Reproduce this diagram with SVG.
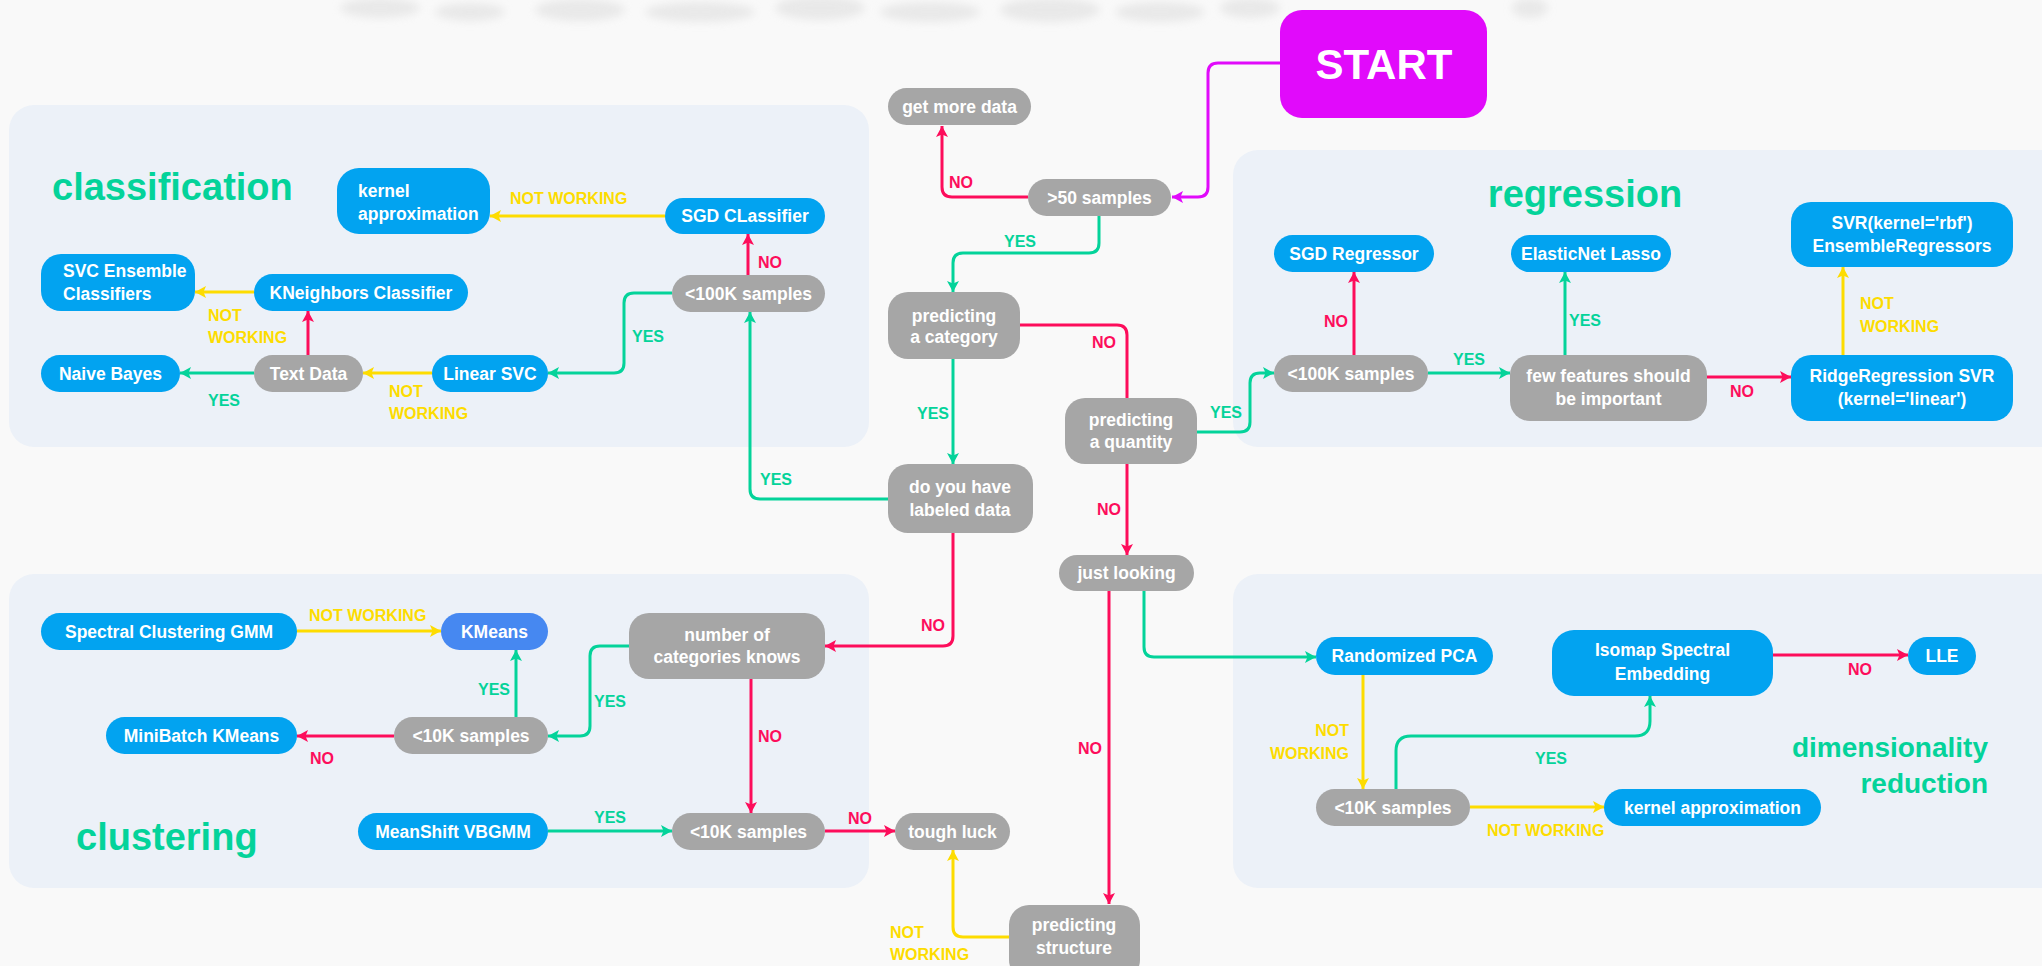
<svg xmlns="http://www.w3.org/2000/svg" width="2042" height="966" viewBox="0 0 2042 966">
<defs>
<style>
.bg{fill:#f9f9f9}
.panel{fill:#ecf1f8}
.blue{fill:#02a3f0}
.gray{fill:#a6a6a6}
.km{fill:#4688f1}
.mag{fill:#e10afb}
.t{font-family:'Liberation Sans',Arial,sans-serif;font-weight:bold;font-size:17.5px;fill:#ffffff}
.m{text-anchor:middle}
.e{text-anchor:end}
.lab{font-family:'Liberation Sans',Arial,sans-serif;font-weight:bold;font-size:16px}
.title{font-family:'Liberation Sans',Arial,sans-serif;font-weight:bold;font-size:38px;fill:#04d39a}
.lg{fill:#04d39a}.lr{fill:#fd0d5b}.ly{fill:#fddc00}
.c{fill:none;stroke-width:3;stroke-linejoin:round}
.cg{stroke:#04d39a}.cr{stroke:#fd0d5b}.cy{stroke:#fddc00}.cm{stroke:#e10afb}
</style>
<marker id="ag" markerUnits="userSpaceOnUse" markerWidth="12" markerHeight="12" refX="11" refY="6" orient="auto"><path d="M0,0 L11,6 L0,12 L2.5,6 z" fill="#04d39a"/></marker>
<marker id="ar" markerUnits="userSpaceOnUse" markerWidth="12" markerHeight="12" refX="11" refY="6" orient="auto"><path d="M0,0 L11,6 L0,12 L2.5,6 z" fill="#fd0d5b"/></marker>
<marker id="ay" markerUnits="userSpaceOnUse" markerWidth="12" markerHeight="12" refX="11" refY="6" orient="auto"><path d="M0,0 L11,6 L0,12 L2.5,6 z" fill="#fddc00"/></marker>
<marker id="am" markerUnits="userSpaceOnUse" markerWidth="12" markerHeight="12" refX="11" refY="6" orient="auto"><path d="M0,0 L11,6 L0,12 L2.5,6 z" fill="#e10afb"/></marker>
<filter id="blur" x="-20%" y="-100%" width="140%" height="300%"><feGaussianBlur stdDeviation="4"/></filter>
</defs>

<rect class="bg" x="0" y="0" width="2042" height="966"/>

<g id="top-decoration" filter="url(#blur)" fill="#e2e2e2" opacity="0.7">
<ellipse cx="380" cy="8" rx="40" ry="10"/>
<ellipse cx="470" cy="12" rx="35" ry="9"/>
<ellipse cx="580" cy="10" rx="45" ry="11"/>
<ellipse cx="700" cy="12" rx="55" ry="10"/>
<ellipse cx="820" cy="8" rx="45" ry="12"/>
<ellipse cx="930" cy="12" rx="50" ry="10"/>
<ellipse cx="1050" cy="10" rx="50" ry="12"/>
<ellipse cx="1160" cy="12" rx="45" ry="10"/>
<ellipse cx="1250" cy="8" rx="30" ry="10"/>
<ellipse cx="1530" cy="8" rx="18" ry="10"/>
</g>

<g id="panels">
<rect class="panel" x="9" y="105" width="860" height="342" rx="25"/>
<rect class="panel" x="1233" y="150" width="840" height="297" rx="25"/>
<rect class="panel" x="9" y="574" width="860" height="314" rx="25"/>
<rect class="panel" x="1233" y="574" width="840" height="314" rx="25"/>
<text class="title" x="52" y="200">classification</text>
<text class="title m" x="1585" y="207">regression</text>
<text class="title" x="76" y="850">clustering</text>
<text class="title e" x="1988" y="757" style="font-size:28px">dimensionality</text>
<text class="title e" x="1988" y="793" style="font-size:28px">reduction</text>
</g>

<g id="connectors">
<path class="c cm" d="M1280,63 H1218 Q1208,63 1208,73 V187 Q1208,197 1198,197 H1172" marker-end="url(#am)"/>
<path class="c cr" d="M1028,197 H952 Q942,197 942,187 V126" marker-end="url(#ar)"/>
<path class="c cg" d="M1099,216 V243 Q1099,253 1089,253 H963 Q953,253 953,263 V292" marker-end="url(#ag)"/>
<path class="c cg" d="M953,359 V464" marker-end="url(#ag)"/>
<path class="c cr" d="M1020,325 H1117 Q1127,325 1127,335 V398"/>
<path class="c cr" d="M1127,464 V555" marker-end="url(#ar)"/>
<path class="c cg" d="M1197,432 H1240 Q1250,432 1250,422 V383 Q1250,373 1260,373 H1274" marker-end="url(#ag)"/>
<path class="c cr" d="M1354,355 V272" marker-end="url(#ar)"/>
<path class="c cg" d="M1428,373 H1510" marker-end="url(#ag)"/>
<path class="c cg" d="M1565,355 V272" marker-end="url(#ag)"/>
<path class="c cr" d="M1707,377 H1791" marker-end="url(#ar)"/>
<path class="c cy" d="M1843,355 V267" marker-end="url(#ay)"/>
<path class="c cg" d="M888,499 H760 Q750,499 750,489 V312" marker-end="url(#ag)"/>
<path class="c cr" d="M748,275 V234" marker-end="url(#ar)"/>
<path class="c cy" d="M665,216 H490" marker-end="url(#ay)"/>
<path class="c cg" d="M672,293 H634 Q624,293 624,303 V363 Q624,373 614,373 H548" marker-end="url(#ag)"/>
<path class="c cy" d="M432,373 H363" marker-end="url(#ay)"/>
<path class="c cr" d="M308,355 V311" marker-end="url(#ar)"/>
<path class="c cy" d="M254,292 H195" marker-end="url(#ay)"/>
<path class="c cg" d="M254,373 H180" marker-end="url(#ag)"/>
<path class="c cr" d="M953,533 V636 Q953,646 943,646 H825" marker-end="url(#ar)"/>
<path class="c cg" d="M629,646 H600 Q590,646 590,656 V726 Q590,736 580,736 H548" marker-end="url(#ag)"/>
<path class="c cr" d="M394,736 H297" marker-end="url(#ar)"/>
<path class="c cg" d="M516,717 V650" marker-end="url(#ag)"/>
<path class="c cy" d="M297,631 H441" marker-end="url(#ay)"/>
<path class="c cr" d="M751,679 V813" marker-end="url(#ar)"/>
<path class="c cg" d="M548,831 H672" marker-end="url(#ag)"/>
<path class="c cr" d="M825,831 H895" marker-end="url(#ar)"/>
<path class="c cy" d="M1009,937 H963 Q953,937 953,927 V850" marker-end="url(#ay)"/>
<path class="c cr" d="M1109,591 V904" marker-end="url(#ar)"/>
<path class="c cg" d="M1144,591 V647 Q1144,657 1154,657 H1316" marker-end="url(#ag)"/>
<path class="c cy" d="M1363,675 V789" marker-end="url(#ay)"/>
<path class="c cg" d="M1396,789 V751 Q1396,736 1411,736 H1635 Q1650,736 1650,721 V696" marker-end="url(#ag)"/>
<path class="c cy" d="M1470,807 H1604" marker-end="url(#ay)"/>
<path class="c cr" d="M1773,655 H1908" marker-end="url(#ar)"/>
</g>

<g id="connector-labels" class="lab">
<text class="ly" x="510" y="204">NOT WORKING</text>
<text class="lr" x="758" y="268">NO</text>
<text class="lg" x="632" y="342">YES</text>
<text class="ly" x="389" y="397">NOT</text>
<text class="ly" x="389" y="419">WORKING</text>
<text class="ly" x="208" y="321">NOT</text>
<text class="ly" x="208" y="343">WORKING</text>
<text class="lg" x="208" y="406">YES</text>
<text class="lr" x="949" y="188">NO</text>
<text class="lg" x="1004" y="247">YES</text>
<text class="lg" x="917" y="419">YES</text>
<text class="lg" x="760" y="485">YES</text>
<text class="lr" x="1092" y="348">NO</text>
<text class="lg" x="1210" y="418">YES</text>
<text class="lr" x="1324" y="327">NO</text>
<text class="lg" x="1453" y="365">YES</text>
<text class="lg" x="1569" y="326">YES</text>
<text class="lr" x="1730" y="397">NO</text>
<text class="ly" x="1860" y="309">NOT</text>
<text class="ly" x="1860" y="332">WORKING</text>
<text class="ly" x="309" y="621">NOT WORKING</text>
<text class="lg" x="478" y="695">YES</text>
<text class="lr" x="310" y="764">NO</text>
<text class="lr" x="921" y="631">NO</text>
<text class="lg" x="594" y="707">YES</text>
<text class="lr" x="758" y="742">NO</text>
<text class="lg" x="594" y="823">YES</text>
<text class="lr" x="848" y="824">NO</text>
<text class="ly" x="890" y="938">NOT</text>
<text class="ly" x="890" y="960">WORKING</text>
<text class="lr" x="1097" y="515">NO</text>
<text class="lr" x="1078" y="754">NO</text>
<text class="ly e" x="1349" y="736">NOT</text>
<text class="ly e" x="1349" y="759">WORKING</text>
<text class="lg" x="1535" y="764">YES</text>
<text class="ly" x="1487" y="836">NOT WORKING</text>
<text class="lr" x="1848" y="675">NO</text>
</g>

<g id="start"><rect class="mag" x="1280" y="10" width="207" height="108" rx="22"/><text class="t m" x="1384" y="79" style="font-size:42px">START</text></g>
<g id="get-more-data"><rect class="gray" x="888" y="88" width="143" height="37" rx="18.5"/><text class="t m" x="959.5" y="113">get more data</text></g>
<g id="gt50-samples"><rect class="gray" x="1028" y="179" width="143" height="37" rx="18.5"/><text class="t m" x="1099.5" y="204">&gt;50 samples</text></g>
<g id="predicting-category"><rect class="gray" x="888" y="292" width="132" height="67" rx="20"/><text class="t m" x="954" y="322">predicting</text><text class="t m" x="954" y="343">a category</text></g>
<g id="labeled-data"><rect class="gray" x="888" y="464" width="145" height="69" rx="20"/><text class="t m" x="960" y="493">do you have</text><text class="t m" x="960" y="516">labeled data</text></g>
<g id="predicting-quantity"><rect class="gray" x="1065" y="398" width="132" height="66" rx="20"/><text class="t m" x="1131" y="426">predicting</text><text class="t m" x="1131" y="448">a quantity</text></g>
<g id="just-looking"><rect class="gray" x="1059" y="555" width="135" height="36" rx="18"/><text class="t m" x="1126.5" y="579">just looking</text></g>
<g id="predicting-structure"><rect class="gray" x="1009" y="905" width="131" height="75" rx="20"/><text class="t m" x="1074" y="931">predicting</text><text class="t m" x="1074" y="954">structure</text></g>
<g id="tough-luck"><rect class="gray" x="895" y="813" width="115" height="37" rx="18.5"/><text class="t m" x="952.5" y="838">tough luck</text></g>

<g id="kernel-approximation-cls"><rect class="blue" x="337" y="168" width="153" height="66" rx="22"/><text class="t" x="358" y="197">kernel</text><text class="t" x="358" y="220">approximation</text></g>
<g id="sgd-classifier"><rect class="blue" x="665" y="198" width="160" height="36" rx="18"/><text class="t m" x="745" y="222">SGD CLassifier</text></g>
<g id="lt100k-cls"><rect class="gray" x="672" y="275" width="153" height="37" rx="18.5"/><text class="t m" x="748.5" y="300">&lt;100K samples</text></g>
<g id="kneighbors"><rect class="blue" x="254" y="274" width="214" height="37" rx="18.5"/><text class="t m" x="361" y="299">KNeighbors Classifier</text></g>
<g id="svc-ensemble"><rect class="blue" x="41" y="254" width="154" height="57" rx="20"/><text class="t" x="63" y="277">SVC Ensemble</text><text class="t" x="63" y="300">Classifiers</text></g>
<g id="naive-bayes"><rect class="blue" x="41" y="355" width="139" height="37" rx="18.5"/><text class="t m" x="110.5" y="380">Naive Bayes</text></g>
<g id="text-data"><rect class="gray" x="254" y="355" width="109" height="37" rx="18.5"/><text class="t m" x="308.5" y="380">Text Data</text></g>
<g id="linear-svc"><rect class="blue" x="432" y="355" width="116" height="37" rx="18.5"/><text class="t m" x="490" y="380">Linear SVC</text></g>

<g id="sgd-regressor"><rect class="blue" x="1274" y="235" width="160" height="37" rx="18.5"/><text class="t m" x="1354" y="260">SGD Regressor</text></g>
<g id="lt100k-reg"><rect class="gray" x="1274" y="355" width="154" height="37" rx="18.5"/><text class="t m" x="1351" y="380">&lt;100K samples</text></g>
<g id="few-features"><rect class="gray" x="1510" y="355" width="197" height="66" rx="20"/><text class="t m" x="1608.5" y="382">few features should</text><text class="t m" x="1608.5" y="405">be important</text></g>
<g id="elasticnet"><rect class="blue" x="1511" y="235" width="160" height="37" rx="18.5"/><text class="t m" x="1591" y="260">ElasticNet Lasso</text></g>
<g id="ridge"><rect class="blue" x="1791" y="355" width="222" height="66" rx="20"/><text class="t m" x="1902" y="382">RidgeRegression SVR</text><text class="t m" x="1902" y="405">(kernel='linear')</text></g>
<g id="svr-rbf"><rect class="blue" x="1791" y="202" width="222" height="65" rx="20"/><text class="t m" x="1902" y="229">SVR(kernel='rbf')</text><text class="t m" x="1902" y="252">EnsembleRegressors</text></g>

<g id="spectral"><rect class="blue" x="41" y="613" width="256" height="37" rx="18.5"/><text class="t m" x="169" y="638">Spectral Clustering GMM</text></g>
<g id="kmeans"><rect class="km" x="441" y="613" width="107" height="37" rx="18.5"/><text class="t m" x="494.5" y="638">KMeans</text></g>
<g id="minibatch"><rect class="blue" x="106" y="717" width="191" height="37" rx="18.5"/><text class="t m" x="201.5" y="742">MiniBatch KMeans</text></g>
<g id="lt10k-c1"><rect class="gray" x="394" y="717" width="154" height="37" rx="18.5"/><text class="t m" x="471" y="742">&lt;10K samples</text></g>
<g id="number-categories"><rect class="gray" x="629" y="613" width="196" height="66" rx="20"/><text class="t m" x="727" y="641">number of</text><text class="t m" x="727" y="663">categories knows</text></g>
<g id="meanshift"><rect class="blue" x="358" y="813" width="190" height="37" rx="18.5"/><text class="t m" x="453" y="838">MeanShift VBGMM</text></g>
<g id="lt10k-c2"><rect class="gray" x="672" y="813" width="153" height="37" rx="18.5"/><text class="t m" x="748.5" y="838">&lt;10K samples</text></g>

<g id="randomized-pca"><rect class="blue" x="1316" y="637" width="177" height="38" rx="19"/><text class="t m" x="1404.5" y="662">Randomized PCA</text></g>
<g id="lt10k-dim"><rect class="gray" x="1316" y="789" width="154" height="37" rx="18.5"/><text class="t m" x="1393" y="814">&lt;10K samples</text></g>
<g id="isomap"><rect class="blue" x="1552" y="630" width="221" height="66" rx="22"/><text class="t m" x="1662.5" y="656">Isomap Spectral</text><text class="t m" x="1662.5" y="680">Embedding</text></g>
<g id="lle"><rect class="blue" x="1908" y="637" width="68" height="38" rx="19"/><text class="t m" x="1942" y="662">LLE</text></g>
<g id="kernel-approximation-dim"><rect class="blue" x="1604" y="789" width="217" height="37" rx="18.5"/><text class="t m" x="1712.5" y="814">kernel approximation</text></g>
</svg>
